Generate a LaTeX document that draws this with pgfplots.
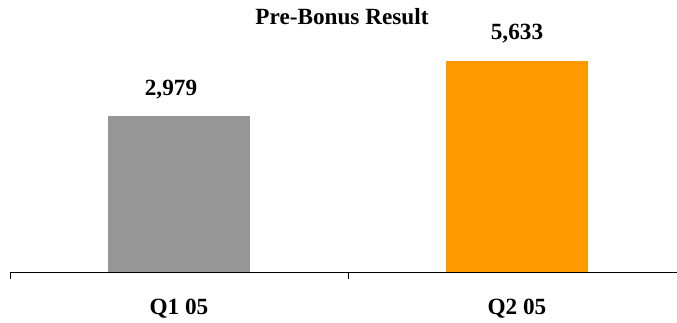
\documentclass[border=0pt]{standalone}
\usepackage{fontspec}
\setmainfont{Liberation Serif}
\usepackage{pgfplots}
\pgfplotsset{compat=1.18}

\definecolor{barGray}{RGB}{150,150,150}
\definecolor{barOrange}{RGB}{255,153,0}

\newcommand{\chartfont}{\bfseries\fontsize{23.3}{25}\selectfont}

\begin{document}
\begin{tikzpicture}
\begin{axis}[
    scale only axis,
    width=667bp, height=250bp,
    xmin=0.5, xmax=2.4734,
    % value axis starts at -4500, so bars rise from that level
    ymin=0, ymax=12000,
    y filter/.expression={y+4500},
    hide y axis,
    axis x line*=bottom,
    axis line style={black, line width=0.9bp},
    xtick={1,2},
    xticklabels={Q1 05, Q2 05},
    major tick length=0pt,
    minor xtick={0.5,1.5},
    minor tick length=7bp,
    tick align=outside,
    tick style={black, line width=0.9bp},
    xticklabel style={font=\chartfont, anchor=base, yshift=-42bp},
    ybar, bar width=142bp, bar shift=0pt,
    point meta=rawy,
    nodes near coords,
    nodes near coords style={font=\chartfont, anchor=base, yshift=21bp},
    /pgf/number format/.cd, fixed, precision=0, 1000 sep={,}, assume math mode=true,
]
\addplot[fill=barGray, draw=none,
    nodes near coords style={xshift=-8bp}] coordinates {(1,2979)};
\addplot[fill=barOrange, draw=none] coordinates {(2,5633)};
\end{axis}
\node[anchor=base, font=\chartfont]
    at ([xshift=332bp, yshift=247bp]current axis.south west) {Pre-Bonus Result};
\pgfresetboundingbox
\path ([xshift=-10bp, yshift=-51bp]current axis.south west) rectangle ++(677bp,323bp);
\end{tikzpicture}
\end{document}
